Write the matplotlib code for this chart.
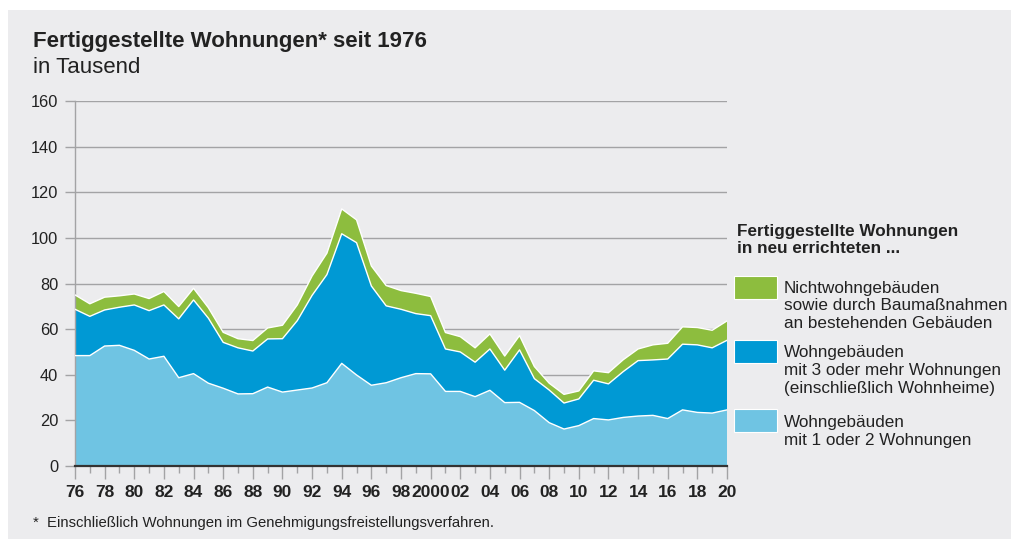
import matplotlib
matplotlib.use("Agg")
import matplotlib.pyplot as plt
from matplotlib.patches import Rectangle
import numpy as np

plt.rcParams['font.family'] = ['Liberation Sans', 'DejaVu Sans']

years = list(range(1976, 2021))
# Wohngebäude mit 1 oder 2 Wohnungen (Tsd.)
ein_zwei = [48.4, 48.4, 52.6, 52.9, 50.7, 46.9, 48.1, 38.7, 40.5, 36.3,
            34.1, 31.6, 31.7, 34.6, 32.4, 33.3, 34.2, 36.5, 45.0, 39.9,
            35.4, 36.5, 38.7, 40.5, 40.4, 32.7, 32.7, 30.4, 33.2, 27.8,
            27.9, 24.3, 19.0, 16.2, 17.7, 20.8, 20.2, 21.3, 21.9, 22.2,
            20.8, 24.6, 23.5, 23.2, 24.6]
# Gesamtsumme Wohngebäude (Oberkante dunkelblau)
wohn_total = [68.7, 65.6, 68.4, 69.6, 70.6, 68.1, 70.6, 64.5, 72.8, 64.8,
              54.2, 51.8, 50.4, 55.7, 55.8, 63.7, 74.8, 83.9, 101.8, 97.9,
              78.9, 70.2, 68.7, 66.8, 65.9, 51.3, 50.0, 45.5, 51.3, 42.0,
              50.9, 38.3, 33.3, 27.6, 29.4, 37.6, 36.0, 41.4, 46.2, 46.5,
              46.9, 53.4, 53.1, 51.8, 55.1]
# Gesamt (Oberkante grün)
gesamt = [75.0, 71.1, 74.0, 74.6, 75.4, 73.4, 76.5, 69.9, 77.9, 69.4,
          58.6, 55.8, 55.0, 60.5, 61.7, 70.6, 83.3, 93.3, 112.7, 107.9,
          87.7, 79.1, 76.9, 75.7, 74.3, 58.5, 56.7, 51.8, 57.9, 48.2,
          57.2, 43.6, 36.3, 31.4, 32.9, 41.7, 40.9, 46.6, 51.3, 53.1,
          53.8, 61.0, 60.7, 59.5, 63.6]

mehr = [t - e for t, e in zip(wohn_total, ein_zwei)]
nicht = [g - t for g, t in zip(gesamt, wohn_total)]

x_ticklabels = ['76', '78', '80', '82', '84', '86', '88', '90', '92', '94', '96', '98',
                '2000', '02', '04', '06', '08', '10', '12', '14', '16', '18', '20']
y_ticks = [0, 20, 40, 60, 80, 100, 120, 140, 160]

c_green = '#8dbd3e'
c_blue = '#0099d4'
c_light = '#6fc4e3'
bg = '#ececee'
grid_c = '#a3a3a5'
txt = '#222222'

fig = plt.figure(figsize=(10.11, 5.39), dpi=100)
fig.patch.set_facecolor('white')
fig.patches.append(Rectangle((8 / 1011, 0), 1, (539 - 10) / 539, transform=fig.transFigure,
                             facecolor=bg, edgecolor='none', zorder=-10))

ax = fig.add_axes([75 / 1011, (539 - 466) / 539, (727 - 75) / 1011, (466 - 101) / 539])
ax.set_facecolor(bg)
ax.patch.set_alpha(0)

ax.stackplot(years, ein_zwei, mehr, nicht, colors=[c_light, c_blue, c_green],
             linewidth=0, zorder=2)
lw = 1.0
ax.plot(years, ein_zwei, color='white', lw=lw, zorder=3)
ax.plot(years, wohn_total, color='white', lw=lw, zorder=3)
ax.plot(years, gesamt, color='white', lw=lw, zorder=3)

ax.set_xlim(1976, 2020)
ax.set_ylim(0, 160)

for yv in y_ticks[1:]:
    ax.axhline(yv, color=grid_c, lw=1.0, zorder=1)
ax.set_yticks(y_ticks)
ax.set_yticklabels([str(v) for v in y_ticks], fontsize=11.8, color=txt)
ax.tick_params(axis='y', length=7, color=grid_c, width=1.0, pad=5)

major_x = list(range(1976, 2021, 2))
ax.set_xticks(major_x)
ax.set_xticklabels(x_ticklabels, fontsize=12.5, fontweight='bold', color=txt)
ax.set_xticks(years, minor=True)
ax.tick_params(axis='x', which='major', length=9, color=grid_c, width=1.0, pad=5)
ax.tick_params(axis='x', which='minor', length=5, color=grid_c, width=1.0)

for s in ['top', 'right']:
    ax.spines[s].set_visible(False)
ax.spines['left'].set_color(grid_c)
ax.spines['left'].set_linewidth(1.0)
ax.spines['bottom'].set_color('#333333')
ax.spines['bottom'].set_linewidth(1.6)
ax.spines['bottom'].set_zorder(4)

fig.text(33 / 1011, 1 - 42 / 539, 'Fertiggestellte Wohnungen* seit 1976', fontsize=16,
         fontweight='bold', color=txt, va='center', ha='left')
fig.text(33 / 1011, 1 - 67 / 539, 'in Tausend', fontsize=16, color=txt,
         va='center', ha='left')
fig.text(33 / 1011, 1 - 523 / 539,
         '*  Einschließlich Wohnungen im Genehmigungsfreistellungsverfahren.',
         fontsize=10.7, color=txt, va='center', ha='left')

# Legend
fig.text(737 / 1011, 1 - 240 / 539, 'Fertiggestellte Wohnungen\nin neu errichteten ...',
         fontsize=12.3, fontweight='bold', color=txt, va='center', ha='left',
         linespacing=1.15)
legend_items = [
    (c_green, 'Nichtwohngebäuden\nsowie durch Baumaßnahmen\nan bestehenden Gebäuden', 276, 306),
    (c_blue, 'Wohngebäuden\nmit 3 oder mehr Wohnungen\n(einschließlich Wohnheime)', 340, 370),
    (c_light, 'Wohngebäuden\nmit 1 oder 2 Wohnungen', 409, 431),
]
for col, label, ytop, ytext in legend_items:
    fig.patches.append(Rectangle((734 / 1011, 1 - (ytop + 23) / 539), 43 / 1011, 23 / 539,
                                 transform=fig.transFigure, facecolor=col,
                                 edgecolor='white', lw=0.8, zorder=5))
    fig.text(784 / 1011, 1 - ytext / 539, label, fontsize=12.3, color=txt,
             va='center', ha='left', linespacing=1.25)

fig.savefig('out.png', dpi=100, facecolor='white')
